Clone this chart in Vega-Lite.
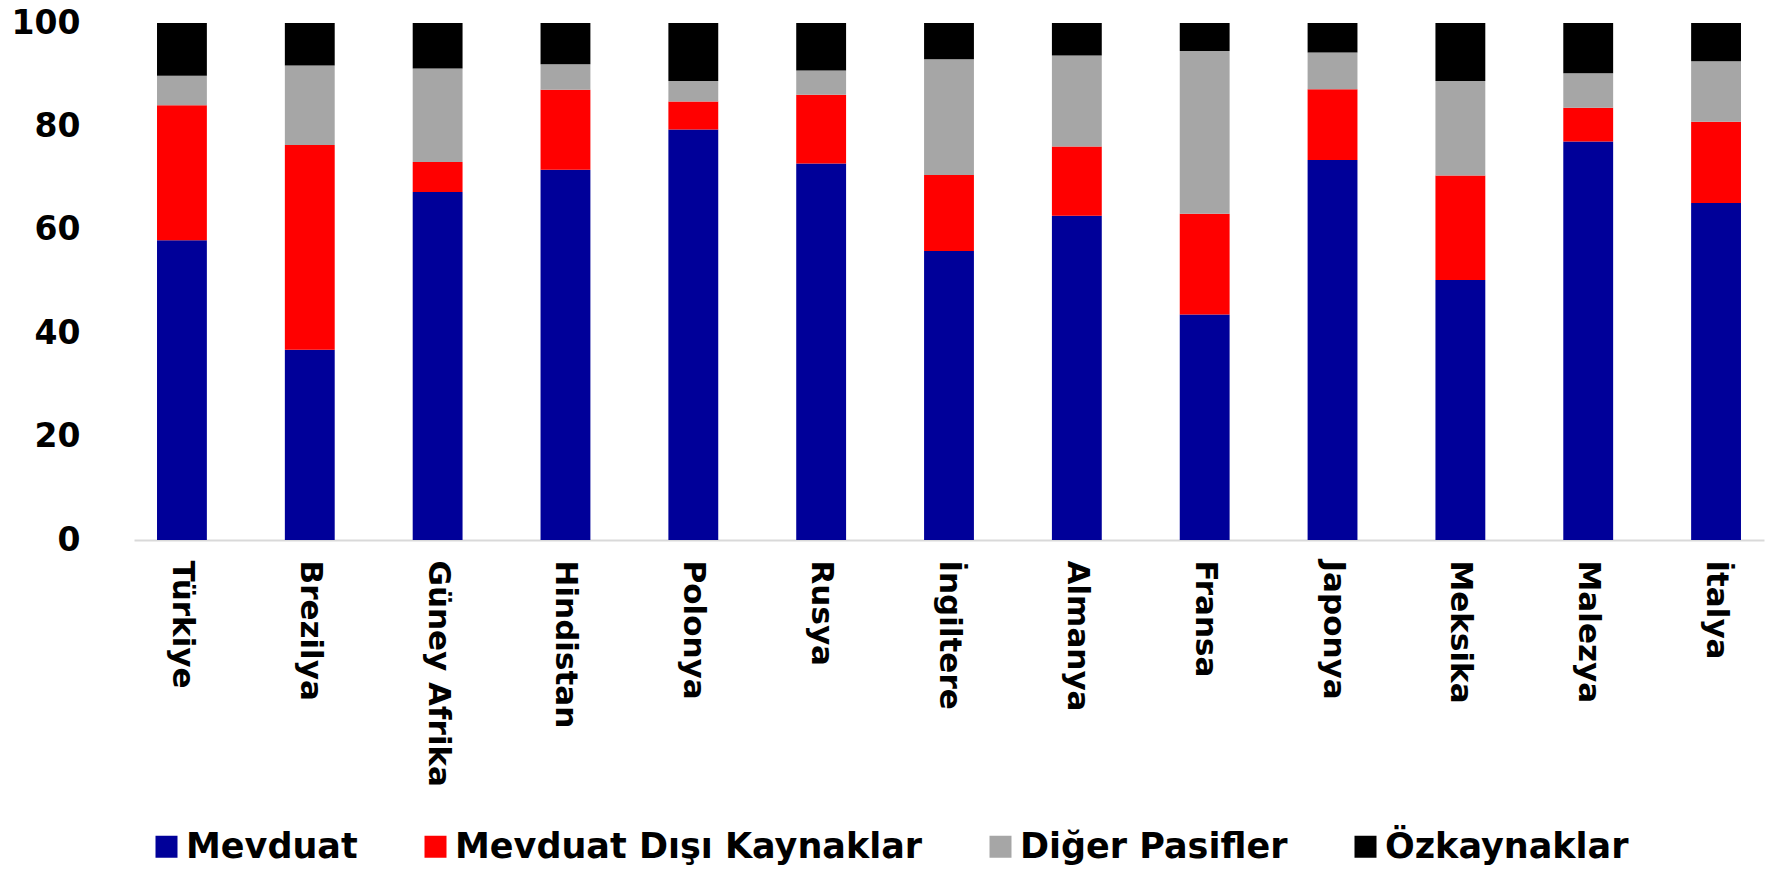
{
  "$schema": "https://vega.github.io/schema/vega-lite/v6.json",
  "autosize": {"type": "none"},
  "width": 1630,
  "height": 517,
  "padding": {"left": 134, "top": 23, "right": 21, "bottom": 331},
  "background": "white",
  "config": {"view": {"stroke": null}},
  "data": {
    "values": [
      {"ulke": "Türkiye", "kalem": "Mevduat", "sira": 1, "deger": 58.0},
      {"ulke": "Türkiye", "kalem": "Mevduat Dışı Kaynaklar", "sira": 2, "deger": 26.1},
      {"ulke": "Türkiye", "kalem": "Diğer Pasifler", "sira": 3, "deger": 5.7},
      {"ulke": "Türkiye", "kalem": "Özkaynaklar", "sira": 4, "deger": 10.2},
      {"ulke": "Brezilya", "kalem": "Mevduat", "sira": 1, "deger": 36.8},
      {"ulke": "Brezilya", "kalem": "Mevduat Dışı Kaynaklar", "sira": 2, "deger": 39.6},
      {"ulke": "Brezilya", "kalem": "Diğer Pasifler", "sira": 3, "deger": 15.4},
      {"ulke": "Brezilya", "kalem": "Özkaynaklar", "sira": 4, "deger": 8.2},
      {"ulke": "Güney Afrika", "kalem": "Mevduat", "sira": 1, "deger": 67.3},
      {"ulke": "Güney Afrika", "kalem": "Mevduat Dışı Kaynaklar", "sira": 2, "deger": 5.8},
      {"ulke": "Güney Afrika", "kalem": "Diğer Pasifler", "sira": 3, "deger": 18.1},
      {"ulke": "Güney Afrika", "kalem": "Özkaynaklar", "sira": 4, "deger": 8.8},
      {"ulke": "Hindistan", "kalem": "Mevduat", "sira": 1, "deger": 71.6},
      {"ulke": "Hindistan", "kalem": "Mevduat Dışı Kaynaklar", "sira": 2, "deger": 15.5},
      {"ulke": "Hindistan", "kalem": "Diğer Pasifler", "sira": 3, "deger": 4.9},
      {"ulke": "Hindistan", "kalem": "Özkaynaklar", "sira": 4, "deger": 8.0},
      {"ulke": "Polonya", "kalem": "Mevduat", "sira": 1, "deger": 79.4},
      {"ulke": "Polonya", "kalem": "Mevduat Dışı Kaynaklar", "sira": 2, "deger": 5.4},
      {"ulke": "Polonya", "kalem": "Diğer Pasifler", "sira": 3, "deger": 4.0},
      {"ulke": "Polonya", "kalem": "Özkaynaklar", "sira": 4, "deger": 11.2},
      {"ulke": "Rusya", "kalem": "Mevduat", "sira": 1, "deger": 72.8},
      {"ulke": "Rusya", "kalem": "Mevduat Dışı Kaynaklar", "sira": 2, "deger": 13.3},
      {"ulke": "Rusya", "kalem": "Diğer Pasifler", "sira": 3, "deger": 4.7},
      {"ulke": "Rusya", "kalem": "Özkaynaklar", "sira": 4, "deger": 9.2},
      {"ulke": "İngiltere", "kalem": "Mevduat", "sira": 1, "deger": 55.9},
      {"ulke": "İngiltere", "kalem": "Mevduat Dışı Kaynaklar", "sira": 2, "deger": 14.7},
      {"ulke": "İngiltere", "kalem": "Diğer Pasifler", "sira": 3, "deger": 22.4},
      {"ulke": "İngiltere", "kalem": "Özkaynaklar", "sira": 4, "deger": 7.0},
      {"ulke": "Almanya", "kalem": "Mevduat", "sira": 1, "deger": 62.7},
      {"ulke": "Almanya", "kalem": "Mevduat Dışı Kaynaklar", "sira": 2, "deger": 13.4},
      {"ulke": "Almanya", "kalem": "Diğer Pasifler", "sira": 3, "deger": 17.6},
      {"ulke": "Almanya", "kalem": "Özkaynaklar", "sira": 4, "deger": 6.3},
      {"ulke": "Fransa", "kalem": "Mevduat", "sira": 1, "deger": 43.6},
      {"ulke": "Fransa", "kalem": "Mevduat Dışı Kaynaklar", "sira": 2, "deger": 19.5},
      {"ulke": "Fransa", "kalem": "Diğer Pasifler", "sira": 3, "deger": 31.5},
      {"ulke": "Fransa", "kalem": "Özkaynaklar", "sira": 4, "deger": 5.4},
      {"ulke": "Japonya", "kalem": "Mevduat", "sira": 1, "deger": 73.5},
      {"ulke": "Japonya", "kalem": "Mevduat Dışı Kaynaklar", "sira": 2, "deger": 13.7},
      {"ulke": "Japonya", "kalem": "Diğer Pasifler", "sira": 3, "deger": 7.1},
      {"ulke": "Japonya", "kalem": "Özkaynaklar", "sira": 4, "deger": 5.7},
      {"ulke": "Meksika", "kalem": "Mevduat", "sira": 1, "deger": 50.3},
      {"ulke": "Meksika", "kalem": "Mevduat Dışı Kaynaklar", "sira": 2, "deger": 20.2},
      {"ulke": "Meksika", "kalem": "Diğer Pasifler", "sira": 3, "deger": 18.3},
      {"ulke": "Meksika", "kalem": "Özkaynaklar", "sira": 4, "deger": 11.2},
      {"ulke": "Malezya", "kalem": "Mevduat", "sira": 1, "deger": 77.1},
      {"ulke": "Malezya", "kalem": "Mevduat Dışı Kaynaklar", "sira": 2, "deger": 6.5},
      {"ulke": "Malezya", "kalem": "Diğer Pasifler", "sira": 3, "deger": 6.7},
      {"ulke": "Malezya", "kalem": "Özkaynaklar", "sira": 4, "deger": 9.7},
      {"ulke": "İtalya", "kalem": "Mevduat", "sira": 1, "deger": 65.2},
      {"ulke": "İtalya", "kalem": "Mevduat Dışı Kaynaklar", "sira": 2, "deger": 15.7},
      {"ulke": "İtalya", "kalem": "Diğer Pasifler", "sira": 3, "deger": 11.7},
      {"ulke": "İtalya", "kalem": "Özkaynaklar", "sira": 4, "deger": 7.4}
    ]
  },
  "mark": {"type": "bar"},
  "encoding": {
    "x": {
      "field": "ulke",
      "type": "nominal",
      "sort": null,
      "scale": {"paddingInner": 0.61, "paddingOuter": 0.18},
      "axis": {
        "title": null,
        "labelAngle": 90,
        "labelAlign": "left",
        "labelBaseline": "middle",
        "labelPadding": 20,
        "labelFont": "DejaVu Sans",
        "labelFontWeight": "bold",
        "labelFontSize": 31,
        "labelColor": "#000000",
        "labelLimit": 500,
        "ticks": false,
        "domainColor": "#d9d9d9",
        "domainWidth": 2
      }
    },
    "y": {
      "field": "deger",
      "type": "quantitative",
      "stack": "zero",
      "scale": {"domain": [0, 100], "nice": false},
      "axis": {
        "title": null,
        "values": [0, 20, 40, 60, 80, 100],
        "grid": false,
        "domain": false,
        "ticks": false,
        "labelPadding": 54,
        "labelFont": "DejaVu Sans",
        "labelFontWeight": "bold",
        "labelFontSize": 33,
        "labelColor": "#000000"
      }
    },
    "order": {"field": "sira", "type": "quantitative", "sort": "ascending"},
    "color": {
      "field": "kalem",
      "type": "nominal",
      "sort": ["Mevduat", "Mevduat Dışı Kaynaklar", "Diğer Pasifler", "Özkaynaklar"],
      "scale": {
        "domain": ["Mevduat", "Mevduat Dışı Kaynaklar", "Diğer Pasifler", "Özkaynaklar"],
        "range": ["#000099", "#ff0000", "#a6a6a6", "#000000"]
      },
      "legend": {
        "title": null,
        "orient": "none",
        "direction": "horizontal",
        "legendX": 15,
        "legendY": 806,
        "symbolType": "square",
        "symbolSize": 484,
        "symbolStrokeWidth": 0,
        "labelFont": "DejaVu Sans",
        "labelFontWeight": "bold",
        "labelFontSize": 35,
        "labelColor": "#000000",
        "labelOffset": 2,
        "columnPadding": 60,
        "labelLimit": 1000
      }
    }
  }
}
